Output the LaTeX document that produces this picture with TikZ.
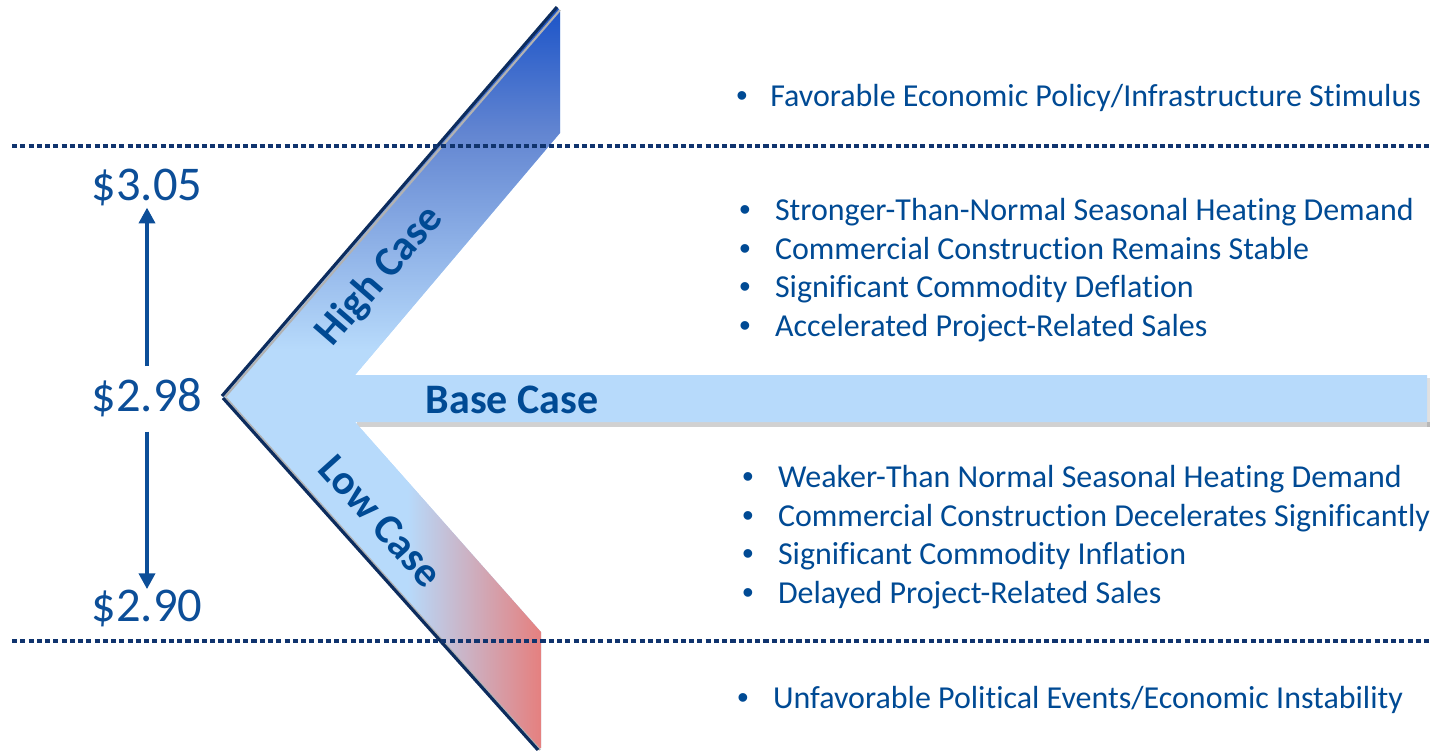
\documentclass[tikz,border=0pt]{standalone}
\usepackage{fontspec}
\setmainfont{Carlito}[Ligatures=NoCommon]
\newfontfamily\bulletfont{Liberation Sans}
\usetikzlibrary{arrows.meta, positioning}
\definecolor{navyline}{RGB}{12, 44, 94}
\definecolor{casetext}{RGB}{0, 74, 148}
\definecolor{pricetext}{RGB}{12, 78, 152}
\definecolor{dotblue}{RGB}{16, 52, 110}
\definecolor{bandlight}{RGB}{183, 218, 251}
\definecolor{bandmid}{RGB}{98, 133, 209}
\definecolor{bandhigh}{RGB}{28, 84, 200}
\definecolor{bandlow}{RGB}{229, 128, 127}

\pgfdeclareverticalshading{highshade}{100bp}{color(0bp)=(bandlight); color(31bp)=(bandlight); color(59bp)=(bandmid); color(75bp)=(bandhigh); color(100bp)=(bandhigh)}
\pgfdeclarehorizontalshading{lowshade}{100bp}{color(0bp)=(bandlight); color(54bp)=(bandlight); color(75bp)=(bandlow); color(100bp)=(bandlow)}

\begin{document}
\begin{tikzpicture}[x=0.02cm, y=-0.02cm]
    \tikzstyle{price} = [text=pricetext, font=\fontsize{27.6}{32}\selectfont, inner sep=0pt]
    \tikzstyle{pricearrow} = [line width=2.3pt, pricetext, -{Triangle[width=9pt, length=9pt]}]
    \tikzstyle{casename} = [text=casetext, font=\fontsize{23.9}{28}\selectfont\bfseries, inner sep=0pt]
    \tikzstyle{item} = [text=casetext, font=\fontsize{18.2}{21.8}\selectfont, anchor=base west, inner sep=0pt]
    \tikzstyle{dotrule} = [dotblue, line width=2.2pt, dash pattern=on 2.9pt off 1.8pt]
    \tikzstyle{edge} = [navyline, line width=1.8pt]
    \tikzstyle{edgeshade} = [black!30, line width=1.2pt]
    \newcommand{\bul}[1]{\makebox[#1][l]{\bulletfont\textbullet}}

    \useasboundingbox (0,0) rectangle (1431,751);

    % arrow body
    \fill[black, opacity=0.18] (357,422) rectangle (1430,427);
    \fill[black, opacity=0.12] (1427,378) rectangle (1430,427);
    \fill[bandlight] (222,396) -- (558,8) -- (560,12) -- (560,133) -- (355,375) -- (1427,375)
        -- (1427,422) -- (355,422) -- (541,632) -- (541,748) -- (537,748) -- cycle;
    \shade[shading=highshade] (222,396) -- (558,8) -- (560,12) -- (560,133) -- (355,375) -- cycle;
    \shade[shading=lowshade] (223,398) -- (355,422) -- (541,632) -- (541,748) -- (537,748) -- cycle;

    % outer edges
    \draw[edgeshade] (225,397) -- (560,10);
    \draw[edgeshade] (226,398) -- (540,750);
    \draw[edge] (222,396) -- (557,7);
    \draw[edge] (223,398) -- (538,750);

    % dotted limits
    \draw[dotrule] (12,146) -- (1431,146);
    \draw[dotrule] (12,641) -- (1431,641);

    % case labels
    \node[casename, rotate=49] (highcase) at (380,276) {High Case};
    \node[casename] (basecase) at (512,400) {Base Case};
    \node[casename, rotate=-48] (lowcase) at (381,521) {Low Case};

    % prices
    \node[price] (p305) at (147,187) {\$3.05};
    \node[price] (p298) at (147,398) {\$2.98};
    \node[price] (p290) at (147,608) {\$2.90};
    \draw[pricearrow, shorten <=7pt, shorten >=1pt] (p298) -- (p305);
    \draw[pricearrow, shorten <=8pt] (p298) -- (p290);

    % drivers
    \node[item] (up) at (736,106) {\bul{19.3pt}Favorable Economic Policy/Infrastructure Stimulus};
    \foreach \txt [count=\i] in {Stronger-Than-Normal Seasonal Heating Demand,
        Commercial Construction Remains Stable, Significant Commodity Deflation,
        Accelerated Project-Related Sales}
        \node[item] (hi\i) at (739,182.2+38.5*\i) {\bul{20.3pt}\txt};
    \foreach \txt [count=\i] in {Weaker-Than Normal Seasonal Heating Demand,
        Commercial Construction Decelerates Significantly, Significant Commodity Inflation,
        Delayed Project-Related Sales}
        \node[item] (lo\i) at (742,449.2+38.5*\i) {\bul{20.3pt}\txt};
    \node[item] (down) at (737,708) {\bul{20.3pt}Unfavorable Political Events/Economic Instability};
\end{tikzpicture}
\end{document}
